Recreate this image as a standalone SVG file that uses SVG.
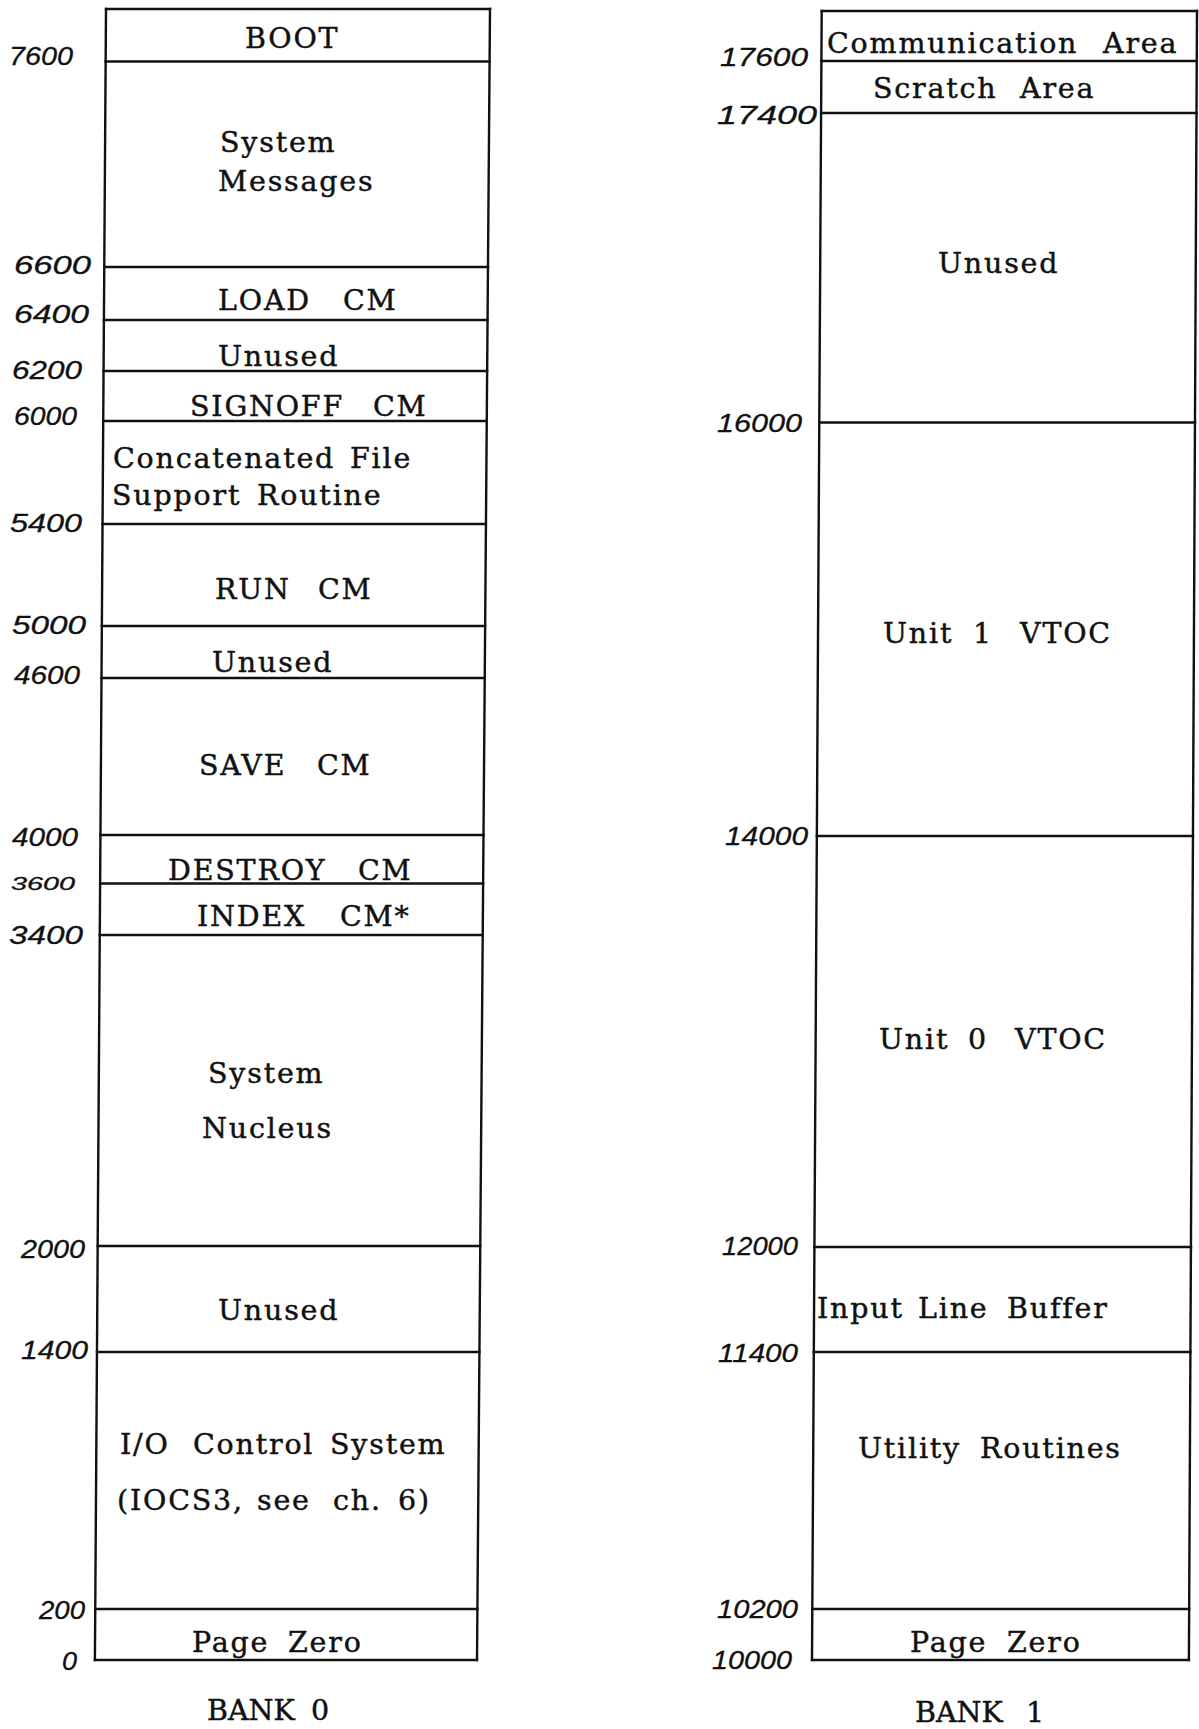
<svg xmlns="http://www.w3.org/2000/svg" width="1199" height="1729" viewBox="0 0 1199 1729">
<style>
.ln{stroke:#111;stroke-width:2.4;fill:none;stroke-linecap:square}
.t{font-family:"DejaVu Serif","Liberation Serif",serif;font-size:28.5px;letter-spacing:1.8px;fill:#111;stroke:#111;stroke-width:0.45px}
.h{font-family:"Liberation Sans","DejaVu Sans",sans-serif;font-style:italic;font-size:26px;fill:#111;stroke:#111;stroke-width:0.3px}
</style>
<rect x="0" y="0" width="1199" height="1729" fill="#fff"/>
<g id="connectors">
<g id="bank0-lines">
<line class="ln" x1="106" y1="9" x2="94.9" y2="1660"/>
<line class="ln" x1="490" y1="9" x2="477" y2="1660"/>
<line class="ln" x1="106" y1="9" x2="490" y2="9"/>
<line class="ln" x1="105.6" y1="61.5" x2="489.6" y2="61.5"/>
<line class="ln" x1="104.3" y1="267" x2="488" y2="267"/>
<line class="ln" x1="103.9" y1="320" x2="487.5" y2="320"/>
<line class="ln" x1="103.6" y1="371" x2="487.1" y2="371"/>
<line class="ln" x1="103.2" y1="421" x2="486.7" y2="421"/>
<line class="ln" x1="102.5" y1="524" x2="485.9" y2="524"/>
<line class="ln" x1="101.8" y1="626" x2="485.1" y2="626"/>
<line class="ln" x1="101.5" y1="678" x2="484.7" y2="678"/>
<line class="ln" x1="100.5" y1="835" x2="483.5" y2="835"/>
<line class="ln" x1="100.1" y1="883.5" x2="483.1" y2="883.5"/>
<line class="ln" x1="99.8" y1="935" x2="482.7" y2="935"/>
<line class="ln" x1="97.7" y1="1246" x2="480.2" y2="1246"/>
<line class="ln" x1="97" y1="1352" x2="479.4" y2="1352"/>
<line class="ln" x1="95.3" y1="1609" x2="477.4" y2="1609"/>
<line class="ln" x1="94.9" y1="1660" x2="477" y2="1660"/>
</g>
<g id="bank1-lines">
<line class="ln" x1="821.7" y1="11" x2="812" y2="1660"/>
<line class="ln" x1="1197" y1="11" x2="1188.9" y2="1660"/>
<line class="ln" x1="821.7" y1="11" x2="1197" y2="11"/>
<line class="ln" x1="821.4" y1="61" x2="1196.8" y2="61"/>
<line class="ln" x1="821.1" y1="113" x2="1196.5" y2="113"/>
<line class="ln" x1="819.3" y1="422.5" x2="1195" y2="422.5"/>
<line class="ln" x1="816.8" y1="836" x2="1193" y2="836"/>
<line class="ln" x1="814.4" y1="1247" x2="1191" y2="1247"/>
<line class="ln" x1="813.8" y1="1352" x2="1190.4" y2="1352"/>
<line class="ln" x1="812.3" y1="1609" x2="1189.2" y2="1609"/>
<line class="ln" x1="812" y1="1660" x2="1188.9" y2="1660"/>
</g>
</g>

<g id="bank0">
<g id="b0-boot"><text class="t" x="245" y="48">BOOT</text></g>
<g id="b0-sysmsg"><text class="t" x="220" y="152">System</text><text class="t" x="218" y="191">Messages</text></g>
<g id="b0-load"><text class="t" y="310"><tspan x="218">LOAD</tspan> <tspan x="343">CM</tspan></text></g>
<g id="b0-unused1"><text class="t" x="218" y="366">Unused</text></g>
<g id="b0-signoff"><text class="t" y="416"><tspan x="190">SIGNOFF</tspan> <tspan x="373">CM</tspan></text></g>
<g id="b0-concat"><text class="t" y="468"><tspan x="113">Concatenated</tspan> <tspan x="350">File</tspan></text><text class="t" y="505"><tspan x="112">Support</tspan> <tspan x="257">Routine</tspan></text></g>
<g id="b0-run"><text class="t" y="599"><tspan x="215">RUN</tspan> <tspan x="318">CM</tspan></text></g>
<g id="b0-unused2"><text class="t" x="212" y="672">Unused</text></g>
<g id="b0-save"><text class="t" y="775"><tspan x="199">SAVE</tspan> <tspan x="317">CM</tspan></text></g>
<g id="b0-destroy"><text class="t" y="880"><tspan x="168">DESTROY</tspan> <tspan x="358">CM</tspan></text></g>
<g id="b0-index"><text class="t" y="926"><tspan x="197">INDEX</tspan> <tspan x="340">CM*</tspan></text></g>
<g id="b0-nucleus"><text class="t" x="208" y="1083">System</text><text class="t" x="202" y="1138">Nucleus</text></g>
<g id="b0-unused3"><text class="t" x="218" y="1320">Unused</text></g>
<g id="b0-iocs"><text class="t" y="1454"><tspan x="120">I/O</tspan> <tspan x="193">Control</tspan> <tspan x="330">System</tspan></text><text class="t" y="1510"><tspan x="117">(IOCS3,</tspan> <tspan x="257">see</tspan> <tspan x="333">ch.</tspan> <tspan x="398">6)</tspan></text></g>
<g id="b0-page0"><text class="t" y="1652"><tspan x="192">Page</tspan> <tspan x="288">Zero</tspan></text></g>
<g id="b0-title"><text class="t" y="1720" style="letter-spacing:0"><tspan x="207">BANK</tspan> <tspan x="311">0</tspan></text></g>
<g id="b0-addr">
<text class="h" x="9" y="65" textLength="64" lengthAdjust="spacingAndGlyphs">7600</text>
<text class="h" x="14" y="274" textLength="77" lengthAdjust="spacingAndGlyphs">6600</text>
<text class="h" x="14" y="323" textLength="75" lengthAdjust="spacingAndGlyphs">6400</text>
<text class="h" x="12" y="379" textLength="70" lengthAdjust="spacingAndGlyphs">6200</text>
<text class="h" x="14" y="425" textLength="63" lengthAdjust="spacingAndGlyphs">6000</text>
<text class="h" x="10" y="532" textLength="72" lengthAdjust="spacingAndGlyphs">5400</text>
<text class="h" x="12" y="634" textLength="74" lengthAdjust="spacingAndGlyphs">5000</text>
<text class="h" x="14" y="684" textLength="66" lengthAdjust="spacingAndGlyphs">4600</text>
<text class="h" x="12" y="846" textLength="66" lengthAdjust="spacingAndGlyphs">4000</text>
<text class="h" x="11" y="890" textLength="64" lengthAdjust="spacingAndGlyphs" style="font-size:19px">3600</text>
<text class="h" x="9" y="944" textLength="74" lengthAdjust="spacingAndGlyphs">3400</text>
<text class="h" x="21" y="1258" textLength="64" lengthAdjust="spacingAndGlyphs">2000</text>
<text class="h" x="21" y="1359" textLength="67" lengthAdjust="spacingAndGlyphs">1400</text>
<text class="h" x="39" y="1619" textLength="46" lengthAdjust="spacingAndGlyphs">200</text>
<text class="h" x="62" y="1670" textLength="15" lengthAdjust="spacingAndGlyphs">0</text>
</g>
</g>

<g id="bank1">
<g id="b1-comm"><text class="t" y="53"><tspan x="827">Communication</tspan> <tspan x="1103">Area</tspan></text></g>
<g id="b1-scratch"><text class="t" y="98"><tspan x="873">Scratch</tspan> <tspan x="1020">Area</tspan></text></g>
<g id="b1-unused"><text class="t" x="938" y="273">Unused</text></g>
<g id="b1-unit1"><text class="t" y="643"><tspan x="883">Unit</tspan> <tspan x="973">1</tspan> <tspan x="1020">VTOC</tspan></text></g>
<g id="b1-unit0"><text class="t" y="1049"><tspan x="879">Unit</tspan> <tspan x="968">0</tspan> <tspan x="1015">VTOC</tspan></text></g>
<g id="b1-input"><text class="t" y="1318"><tspan x="817">Input</tspan> <tspan x="918">Line</tspan> <tspan x="1007">Buffer</tspan></text></g>
<g id="b1-utility"><text class="t" y="1458"><tspan x="858">Utility</tspan> <tspan x="980">Routines</tspan></text></g>
<g id="b1-page0"><text class="t" y="1652"><tspan x="910">Page</tspan> <tspan x="1007">Zero</tspan></text></g>
<g id="b1-title"><text class="t" y="1722" style="letter-spacing:0"><tspan x="915">BANK</tspan> <tspan x="1026">1</tspan></text></g>
<g id="b1-addr">
<text class="h" x="720" y="66" textLength="88" lengthAdjust="spacingAndGlyphs">17600</text>
<text class="h" x="717" y="124" textLength="100" lengthAdjust="spacingAndGlyphs">17400</text>
<text class="h" x="717" y="432" textLength="85" lengthAdjust="spacingAndGlyphs">16000</text>
<text class="h" x="725" y="845" textLength="83" lengthAdjust="spacingAndGlyphs">14000</text>
<text class="h" x="722" y="1255" textLength="76" lengthAdjust="spacingAndGlyphs">12000</text>
<text class="h" x="718" y="1362" textLength="80" lengthAdjust="spacingAndGlyphs">11400</text>
<text class="h" x="717" y="1618" textLength="81" lengthAdjust="spacingAndGlyphs">10200</text>
<text class="h" x="712" y="1669" textLength="80" lengthAdjust="spacingAndGlyphs">10000</text>
</g>
</g>
</svg>
